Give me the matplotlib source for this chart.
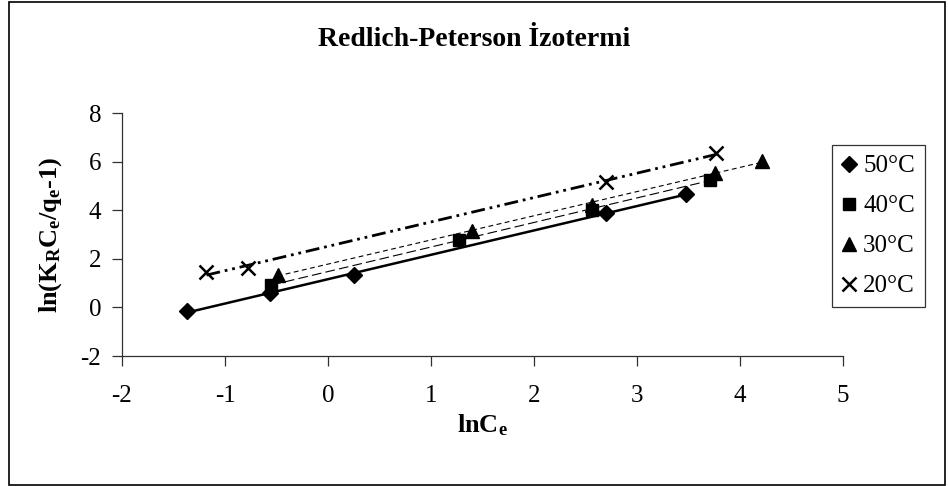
import numpy as np
import matplotlib
matplotlib.use('Agg')
import matplotlib.pyplot as plt
from matplotlib.patches import Rectangle

plt.rcParams['font.family'] = ['Liberation Serif', 'DejaVu Serif']
plt.rcParams['mathtext.fontset'] = 'custom'
plt.rcParams['mathtext.rm'] = 'Liberation Serif'
plt.rcParams['mathtext.bf'] = 'Liberation Serif:bold'
plt.rcParams['axes.unicode_minus'] = False
plt.rcParams['lines.scale_dashes'] = False

# data
labels = ['50°C', '40°C', '30°C', '20°C']
x50 = [-1.37, -0.56, 0.25, 2.70, 3.48]
y50 = [-0.14, 0.58, 1.32, 3.90, 4.66]
x40 = [-0.55, 1.27, 2.56, 3.71]
y40 = [0.92, 2.78, 4.01, 5.25]
x30 = [-0.49, 1.40, 2.56, 3.76, 4.21]
y30 = [1.34, 3.16, 4.22, 5.53, 6.04]
x20 = [-1.18, -0.78, 2.70, 3.77]
y20 = [1.45, 1.61, 5.18, 6.34]

xs = [x50, x40, x30, x20]
ys = [y50, y40, y30, y20]
markers = ['D', 's', '^', 'x']
msizes = [8.5, 9, 10, 10]
line_styles = [
    dict(lw=1.8, ls='-'),
    dict(lw=0.8, ls=(0, (7, 3))),
    dict(lw=0.8, ls=(0, (3.5, 2.5))),
    dict(lw=2.0, ls=(0, (10, 3.5, 2, 3.5, 2, 3.5))),
]

fig = plt.figure(figsize=(9.48, 4.86), dpi=100)
ax = fig.add_axes([122 / 948, 1 - 356 / 486, (843 - 122) / 948, (356 - 113) / 486])

for x, y, m, ms, st, lab in zip(xs, ys, markers, msizes, line_styles, labels):
    x = np.array(x)
    y = np.array(y)
    k, b = np.polyfit(x, y, 1)
    xl = np.array([x.min(), x.max()])
    ax.plot(xl, k * xl + b, color='black', zorder=2, **st)
    if m == 'x':
        ax.plot(x, y, ls='none', marker=m, ms=ms, mew=1.8, color='black',
                zorder=3, label=lab)
    else:
        ax.plot(x, y, ls='none', marker=m, ms=ms, color='black',
                mec='black', zorder=3, label=lab)

ax.set_xlim(-2, 5)
ax.set_ylim(-2, 8)
ax.set_xticks(range(-2, 6))
ax.set_yticks(range(-2, 9, 2))
ax.spines['top'].set_visible(False)
ax.spines['right'].set_visible(False)
for s in ['left', 'bottom']:
    ax.spines[s].set_linewidth(0.9)
    ax.spines[s].set_color('#303030')
ax.tick_params(direction='out', length=7, width=0.9, color='#303030',
               labelsize=18)
ax.tick_params(axis='x', pad=14)
ax.tick_params(axis='y', pad=8)

ax.set_xlabel(r'$\mathbf{lnC_e}$', fontsize=19, labelpad=4)
ax.set_ylabel(r'$\mathbf{ln(K_RC_e/q_e}$-$\mathbf{1)}$', fontsize=19,
              fontweight='bold', labelpad=12)
fig.text(0.5, 1 - 40 / 486, 'Redlich-Peterson İzotermi', ha='center',
         va='center', fontsize=20, fontweight='bold')

leg = fig.legend(loc='upper left', bbox_to_anchor=(832 / 948, 1 - 145 / 486),
                 fontsize=18, frameon=True, fancybox=False, edgecolor='black',
                 handlelength=0.55, handletextpad=0.3, labelspacing=0.7,
                 borderpad=0.4, borderaxespad=0)
leg.get_frame().set_linewidth(0.9)

fig.patches.append(Rectangle((9 / 948, 1 / 486), 936 / 948, 483 / 486,
                             transform=fig.transFigure, fill=False,
                             edgecolor='black', lw=1.2))

fig.savefig('out.png', dpi=100)
